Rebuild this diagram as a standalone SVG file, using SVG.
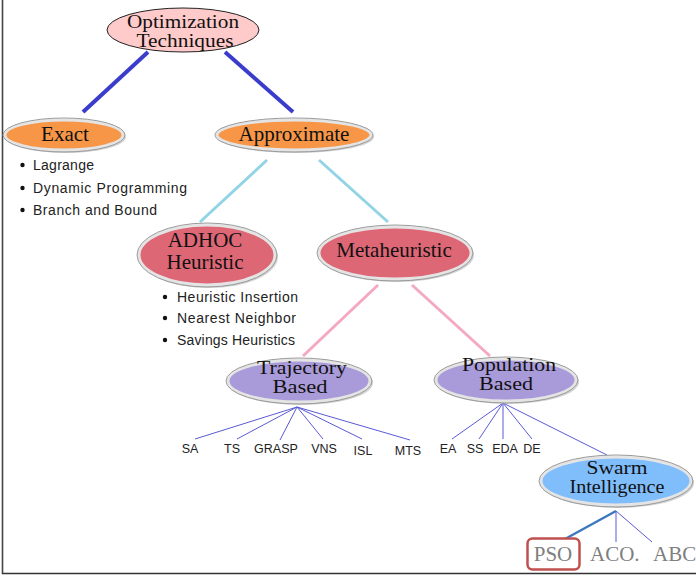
<svg xmlns="http://www.w3.org/2000/svg" width="696" height="577" viewBox="0 0 696 577">
<style>
.serif{font-family:"Liberation Serif","Times New Roman",serif;font-size:21px;fill:#111;text-anchor:middle}
.two{font-size:19px}
.sans{font-family:"Liberation Sans",Arial,sans-serif;font-size:14px;fill:#222}
.lab{font-family:"Liberation Sans",Arial,sans-serif;font-size:12.5px;fill:#222;text-anchor:middle}
.grey{font-family:"Liberation Serif","Times New Roman",serif;font-size:21px;fill:#7f7f7f}
.shadow{fill:#b8b8b8;opacity:0.6}
.rim{stroke:#e4e4e4;stroke-width:3}
.edge{fill:none;stroke:#9a9a9a;stroke-width:1}
.orange{fill:#f79646}
.red{fill:#de6776}
.lav{fill:#a99bd9}
.blue{fill:#80bdfb}
.fan{stroke:#5a5ad6;stroke-width:1;fill:none}
</style>
<rect width="696" height="577" fill="#fff"/>
<line x1="2.5" y1="0" x2="2.5" y2="574" stroke="#444" stroke-width="1.6"/>
<line x1="2" y1="573.5" x2="696" y2="573.5" stroke="#333" stroke-width="1.6"/>
<g id="connectors">
  <line x1="148" y1="52" x2="83" y2="112" stroke="#3a3dcc" stroke-width="4"/>
  <line x1="225" y1="52" x2="293" y2="112" stroke="#3a3dcc" stroke-width="4"/>
  <line x1="267" y1="160" x2="200" y2="222" stroke="#92d4e6" stroke-width="3"/>
  <line x1="319" y1="160" x2="388" y2="222" stroke="#92d4e6" stroke-width="3"/>
  <line x1="378" y1="285" x2="303" y2="356" stroke="#f5a8c2" stroke-width="3"/>
  <line x1="412" y1="285" x2="490" y2="356" stroke="#f5a8c2" stroke-width="3"/>
  <g class="fan">
    <line x1="297" y1="407" x2="195" y2="439"/>
    <line x1="297" y1="407" x2="237" y2="439"/>
    <line x1="297" y1="407" x2="280" y2="440"/>
    <line x1="297" y1="407" x2="323" y2="439"/>
    <line x1="297" y1="407" x2="362" y2="439"/>
    <line x1="297" y1="407" x2="410" y2="440"/>
    <line x1="503" y1="403" x2="452" y2="439"/>
    <line x1="503" y1="403" x2="479" y2="439"/>
    <line x1="503" y1="403" x2="503" y2="439"/>
    <line x1="503" y1="403" x2="532" y2="439"/>
    <line x1="503" y1="403" x2="607" y2="455"/>
    <line x1="616" y1="511" x2="616" y2="542"/>
    <line x1="616" y1="511" x2="652" y2="542"/>
  </g>
  <line x1="616" y1="511" x2="565" y2="539" stroke="#3d78bf" stroke-width="2.5"/>
</g>
<g id="optimization">
  <ellipse cx="183" cy="30" rx="76" ry="22" fill="#ffcaca" stroke="#222" stroke-width="1"/>
  <text class="serif two" x="183" y="28" textLength="112" lengthAdjust="spacingAndGlyphs">Optimization</text>
  <text class="serif two" x="185" y="47" textLength="97" lengthAdjust="spacingAndGlyphs">Techniques</text>
</g>
<g id="exact">
  <ellipse class="shadow" cx="66" cy="137" rx="60" ry="16"/>
  <ellipse class="orange rim" cx="64" cy="135" rx="59" ry="15"/>
  <ellipse class="edge" cx="64" cy="135" rx="61" ry="17"/>
  <text class="serif" x="65" y="141">Exact</text>
  <g class="sans">
    <circle cx="22.5" cy="165" r="2.2" fill="#111"/>
    <text x="33" y="170" textLength="61">Lagrange</text>
    <circle cx="22.5" cy="188" r="2.2" fill="#111"/>
    <text x="33" y="193" textLength="154">Dynamic Programming</text>
    <circle cx="22.5" cy="210" r="2.2" fill="#111"/>
    <text x="33" y="215" textLength="124">Branch and Bound</text>
  </g>
</g>
<g id="approximate">
  <ellipse class="shadow" cx="296" cy="137" rx="78" ry="16"/>
  <ellipse class="orange rim" cx="294" cy="135" rx="77" ry="15"/>
  <ellipse class="edge" cx="294" cy="135" rx="79" ry="17"/>
  <text class="serif" x="294" y="141">Approximate</text>
</g>
<g id="adhoc">
  <ellipse class="shadow" cx="209" cy="257" rx="69" ry="31"/>
  <ellipse class="red rim" cx="207" cy="255" rx="68" ry="30"/>
  <ellipse class="edge" cx="207" cy="255" rx="70" ry="32"/>
  <text class="serif" x="205" y="247">ADHOC</text>
  <text class="serif" x="205" y="269">Heuristic</text>
  <g class="sans">
    <circle cx="165" cy="297" r="2.2" fill="#111"/>
    <text x="177" y="302" textLength="121">Heuristic Insertion</text>
    <circle cx="165" cy="318" r="2.2" fill="#111"/>
    <text x="177" y="323" textLength="119">Nearest Neighbor</text>
    <circle cx="165" cy="340" r="2.2" fill="#111"/>
    <text x="177" y="345" textLength="118">Savings Heuristics</text>
  </g>
</g>
<g id="metaheuristic">
  <ellipse class="shadow" cx="397" cy="255" rx="77" ry="27"/>
  <ellipse class="red rim" cx="395" cy="253" rx="76" ry="26"/>
  <ellipse class="edge" cx="395" cy="253" rx="78" ry="28"/>
  <text class="serif" x="394" y="257">Metaheuristic</text>
</g>
<g id="trajectory">
  <ellipse class="shadow" cx="301" cy="383" rx="72" ry="22"/>
  <ellipse class="lav rim" cx="299" cy="381" rx="71" ry="21"/>
  <ellipse class="edge" cx="299" cy="381" rx="73" ry="23"/>
  <text class="serif two" x="302" y="374" textLength="90" lengthAdjust="spacingAndGlyphs">Trajectory</text>
  <text class="serif two" x="300" y="393" textLength="55" lengthAdjust="spacingAndGlyphs">Based</text>
  <text class="lab" x="190" y="453">SA</text>
  <text class="lab" x="232" y="453">TS</text>
  <text class="lab" x="276" y="453">GRASP</text>
  <text class="lab" x="324" y="453">VNS</text>
  <text class="lab" x="363" y="455">ISL</text>
  <text class="lab" x="408" y="455">MTS</text>
</g>
<g id="population">
  <ellipse class="shadow" cx="508" cy="382" rx="71" ry="22"/>
  <ellipse class="lav rim" cx="506" cy="380" rx="70" ry="21"/>
  <ellipse class="edge" cx="506" cy="380" rx="72" ry="23"/>
  <text class="serif two" x="509" y="371" textLength="94" lengthAdjust="spacingAndGlyphs">Population</text>
  <text class="serif two" x="506" y="390" textLength="54" lengthAdjust="spacingAndGlyphs">Based</text>
  <text class="lab" x="448" y="453">EA</text>
  <text class="lab" x="475" y="453">SS</text>
  <text class="lab" x="505" y="453">EDA</text>
  <text class="lab" x="532" y="453">DE</text>
</g>
<g id="swarm">
  <ellipse class="shadow" cx="618" cy="483" rx="76" ry="25"/>
  <ellipse class="blue rim" cx="616" cy="481" rx="75" ry="24"/>
  <ellipse class="edge" cx="616" cy="481" rx="77" ry="26"/>
  <text class="serif two" x="617" y="474" textLength="61" lengthAdjust="spacingAndGlyphs">Swarm</text>
  <text class="serif two" x="617" y="493" textLength="95" lengthAdjust="spacingAndGlyphs">Intelligence</text>
</g>
<g id="pso">
  <rect x="527.5" y="538.5" width="52" height="31" rx="5" fill="#fff" stroke="#c0504d" stroke-width="2.5"/>
  <text class="grey" x="553" y="561" text-anchor="middle">PSO</text>
</g>
<g id="aco">
  <text class="grey" x="590" y="561">ACO.</text>
</g>
<g id="abc">
  <text class="grey" x="653" y="561">ABC</text>
</g>
</svg>
